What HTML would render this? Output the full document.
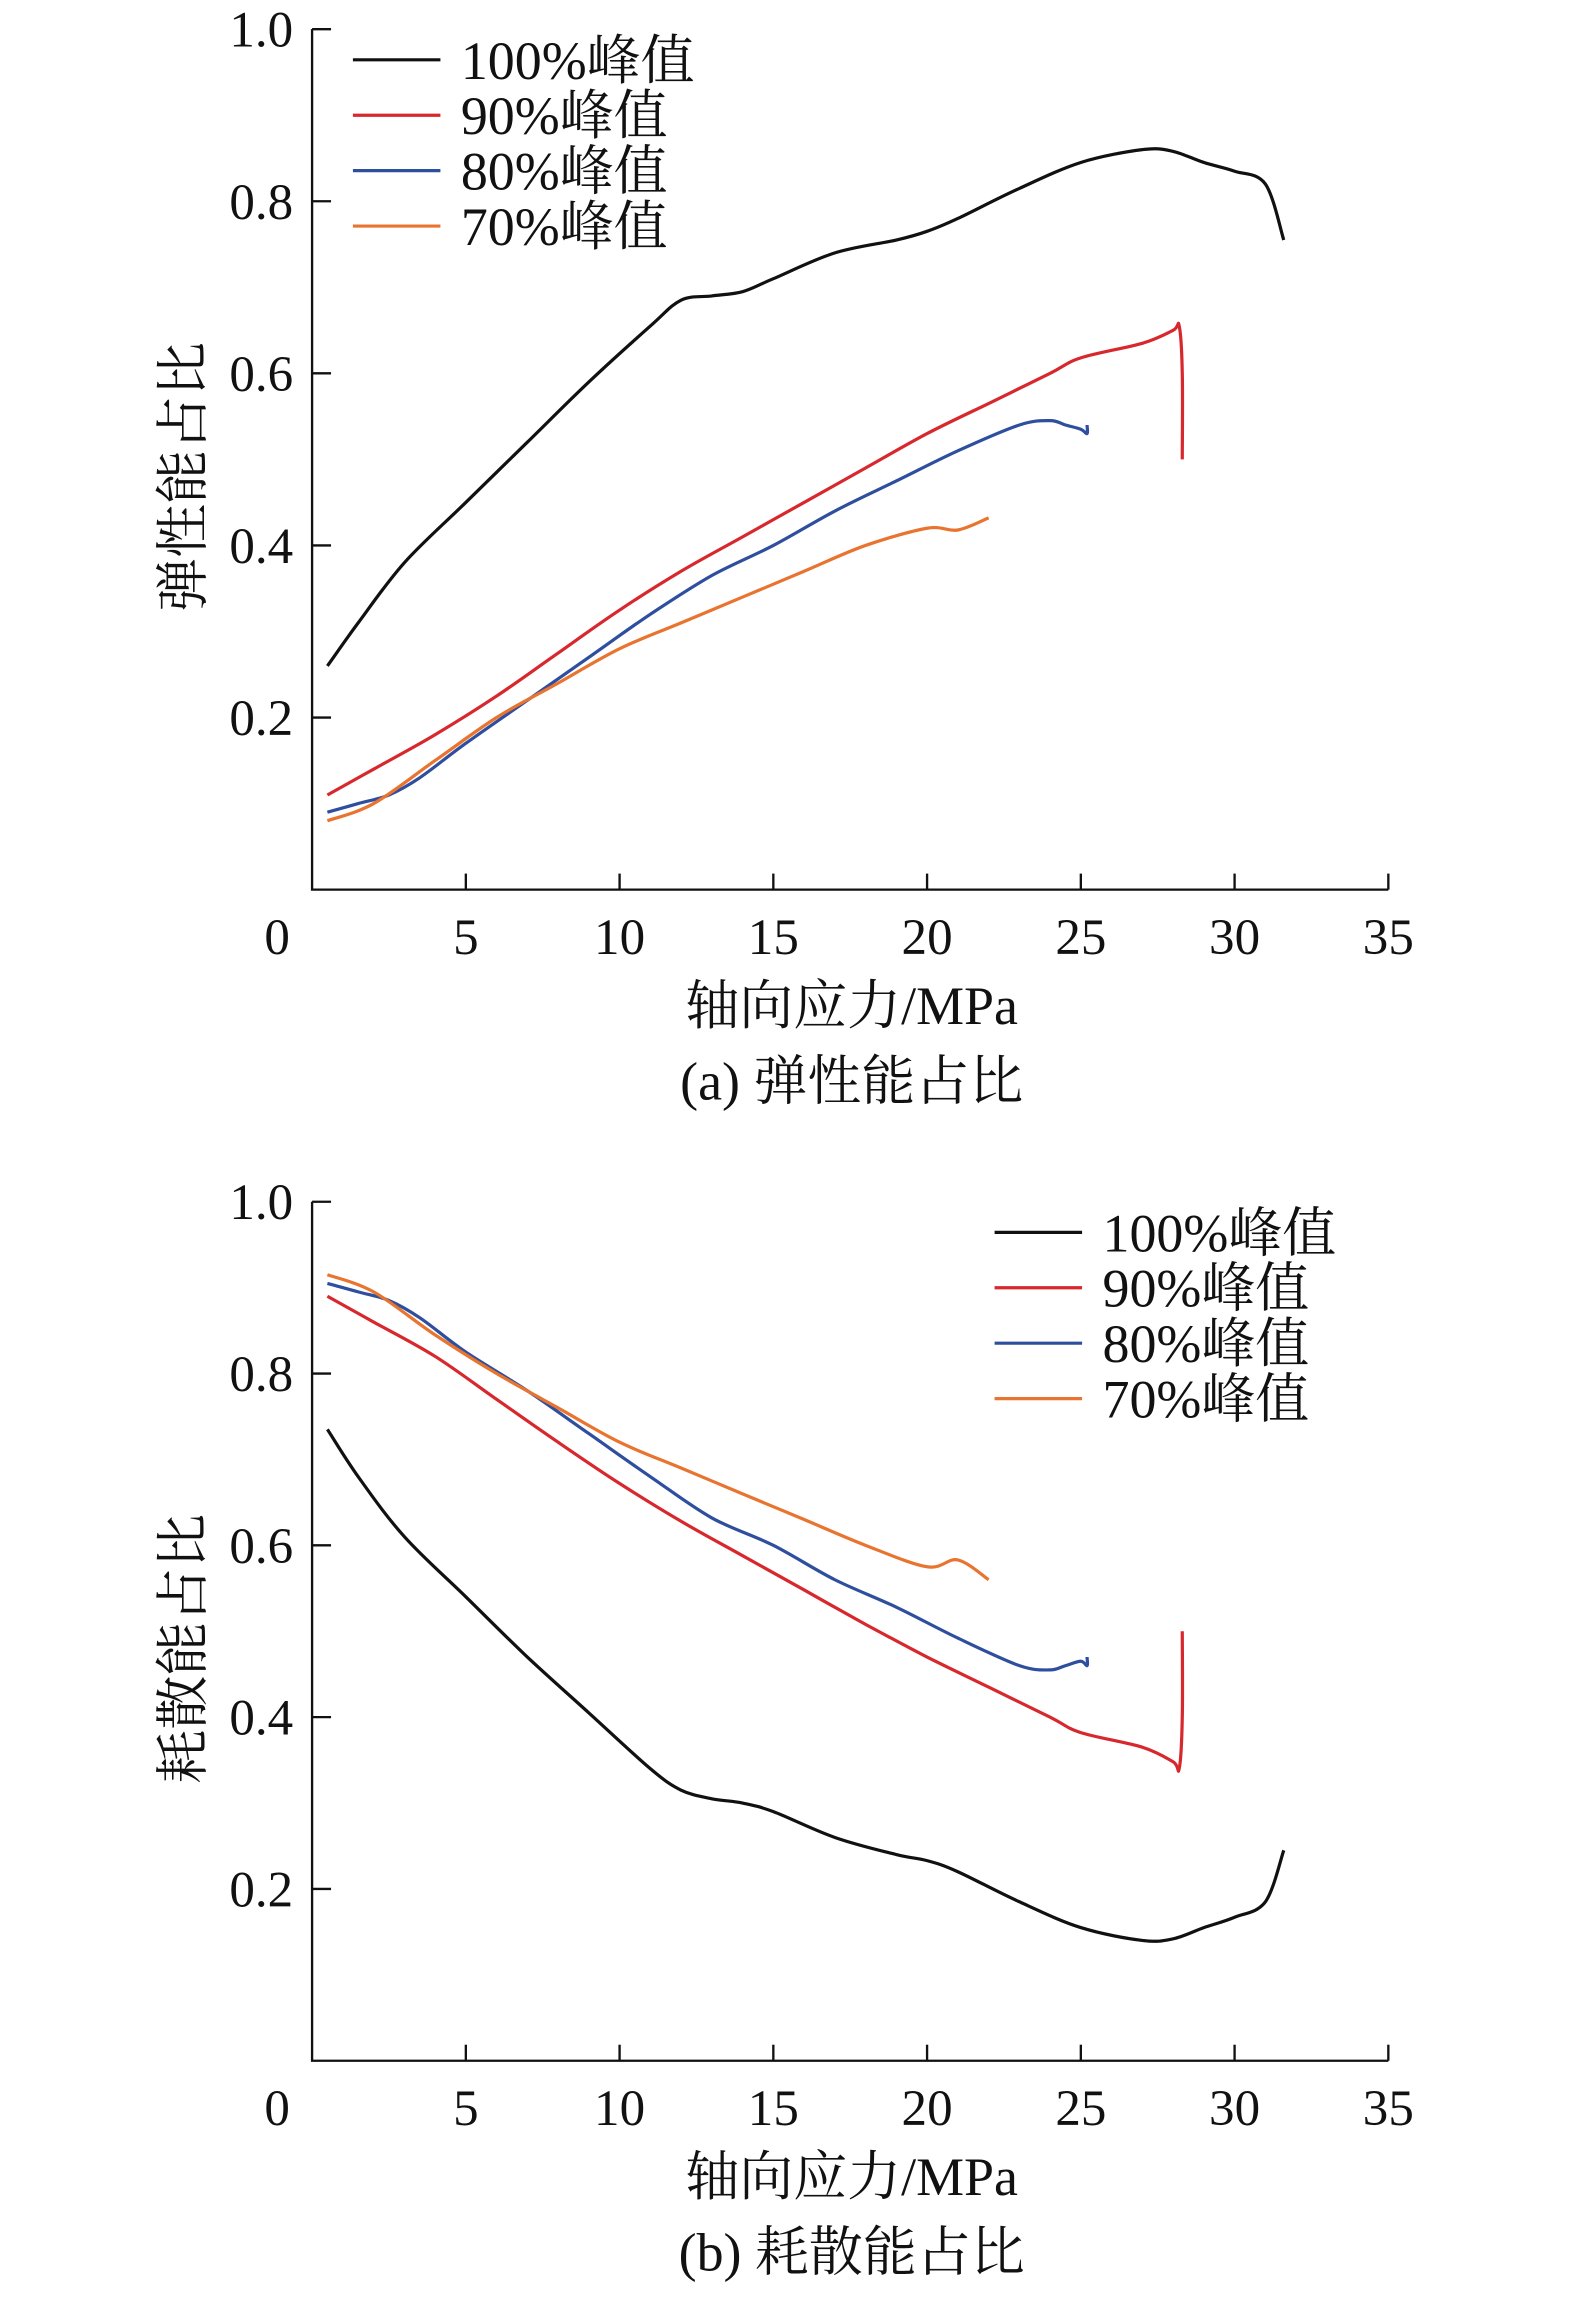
<!DOCTYPE html>
<html><head><meta charset="utf-8"><style>
html,body{margin:0;padding:0;background:#fff}
svg{display:block}
text{font-family:"Liberation Serif","Noto Serif CJK SC",serif;fill:#111}
</style></head><body>
<svg id="chart" width="1575" height="2297" viewBox="0 0 1080 1575" preserveAspectRatio="none"></svg>
<script>
const xTicks=[0,5,10,15,20,25,30,35];
const yTicks=[0.2,0.4,0.6,0.8,1.0];
const seriesNames=["100%峰值","90%峰值","80%峰值","70%峰值"];
const seriesColors=["#111","#d7282d","#2e4e9e","#e8742f"];
// (a) elastic energy ratio
const a100x=[0.5,1.5,3,5,7,9,11,12,13,14,15,17,19,20,21,23,25,27,28,29,30,31,31.6];
const a100y=[0.26,0.31,0.38,0.45,0.52,0.59,0.655,0.685,0.69,0.695,0.71,0.74,0.755,0.765,0.78,0.815,0.845,0.86,0.858,0.845,0.835,0.82,0.755];
const a90x=[0.5,2,4,6,8,10,12,14,16,18,20,22,24,25,27,28,28.2,28.3,28.3];
const a90y=[0.11,0.14,0.18,0.225,0.275,0.325,0.37,0.41,0.45,0.49,0.53,0.565,0.6,0.618,0.635,0.65,0.655,0.6,0.5];
const a80x=[0.5,1.5,2.5,3.5,5,7,9,11,13,15,17,19,21,23,24,24.5,25,25.2,25.2];
const a80y=[0.09,0.1,0.11,0.13,0.17,0.22,0.27,0.32,0.365,0.4,0.44,0.475,0.51,0.54,0.545,0.54,0.535,0.53,0.54];
const a70x=[0.5,2,4,6,8,10,12,14,16,18,20,21,22];
const a70y=[0.08,0.1,0.15,0.2,0.24,0.28,0.31,0.34,0.37,0.4,0.42,0.418,0.432];
// (b) dissipated energy ratio
const b100x=[0.5,1.5,3,5,7,9,11,12,13,14,15,17,19,20,21,23,25,27,28,29,30,31,31.6];
const b100y=[0.735,0.68,0.61,0.54,0.47,0.405,0.34,0.315,0.305,0.3,0.29,0.26,0.24,0.233,0.22,0.185,0.155,0.14,0.142,0.155,0.167,0.185,0.245];
const b90x=[0.5,2,4,6,8,10,12,14,16,18,20,22,24,25,27,28,28.2,28.3,28.3];
const b90y=[0.89,0.86,0.82,0.77,0.72,0.672,0.628,0.588,0.548,0.508,0.47,0.435,0.4,0.382,0.365,0.348,0.34,0.4,0.5];
const b80x=[0.5,1.5,2.5,3.5,5,7,9,11,13,15,17,19,21,23,24,24.5,25,25.2,25.2];
const b80y=[0.905,0.895,0.885,0.865,0.825,0.78,0.73,0.68,0.632,0.6,0.56,0.528,0.492,0.46,0.455,0.46,0.465,0.46,0.47];
const b70x=[0.5,2,4,6,8,10,12,14,16,18,20,21,22];
const b70y=[0.915,0.895,0.845,0.8,0.76,0.72,0.69,0.66,0.63,0.6,0.575,0.583,0.56];

const NS="http://www.w3.org/2000/svg";
const svg=document.getElementById("chart");
function mk(tag,attrs,parent,txt){const e=document.createElementNS(NS,tag);for(const k in attrs)e.setAttribute(k,attrs[k]);if(txt!=null)e.textContent=txt;(parent||svg).appendChild(e);return e;}
function smooth(pts){
  let d="M"+pts[0][0].toFixed(1)+","+pts[0][1].toFixed(1);
  for(let i=0;i<pts.length-1;i++){
    const p0=pts[Math.max(i-1,0)],p1=pts[i],p2=pts[i+1],p3=pts[Math.min(i+2,pts.length-1)];
    const c1=[p1[0]+(p2[0]-p0[0])/6,p1[1]+(p2[1]-p0[1])/6];
    const c2=[p2[0]-(p3[0]-p1[0])/6,p2[1]-(p3[1]-p1[1])/6];
    d+=`C${c1[0].toFixed(1)},${c1[1].toFixed(1)} ${c2[0].toFixed(1)},${c2[1].toFixed(1)} ${p2[0].toFixed(1)},${p2[1].toFixed(1)}`;
  }
  return d;
}
function panel(cfg){
  const g=mk("g",{});
  
  
  const x0=214,x1=952,yTop=cfg.top,yBot=cfg.bot;
  const sx=v=>x0+(v/35)*(x1-x0);
  const sy=v=>yBot-v*(yBot-yTop);
  const ax=mk("path",{d:`M${x0},${yTop}L${x0},${yBot}L${x1},${yBot}`,fill:"none",stroke:"#111","stroke-width":1.6},g);
  
  
  xTicks.forEach(t=>{
    if(t>0){const tk=mk("line",{x1:sx(t),x2:sx(t),y1:yBot,y2:yBot-11,stroke:"#111","stroke-width":1.6},g);
      
      }
    const lb=mk("text",{x:t===0?190:sx(t),y:yBot+44,"text-anchor":"middle","font-size":35},g,String(t));
    
    
  });
  yTicks.forEach(t=>{
    const tk=mk("line",{x1:x0,x2:x0+13,y1:sy(t),y2:sy(t),stroke:"#111","stroke-width":1.6},g);
    
    
    const lb=mk("text",{x:201,y:sy(t)+12,"text-anchor":"end","font-size":35},g,t.toFixed(1));
    
    
  });
  const xt=mk("text",{x:584,y:yBot+92,"text-anchor":"middle","font-size":37},g,"轴向应力/MPa");
  
  
  const cap=mk("text",{x:584,y:yBot+144,"text-anchor":"middle","font-size":37},g,cfg.caption);
  
  
  const cy=(yTop+yBot)/2+12;
  const yt=mk("text",{x:0,y:0,"text-anchor":"middle","font-size":37,transform:`translate(138,${cy}) rotate(-90)`},g,cfg.ytitle);
  
  
  cfg.series.forEach((s,i)=>{
    const pts=s[0].map((v,j)=>[sx(v),sy(s[1][j])]);
    const p=mk("path",{d:smooth(pts),fill:"none",stroke:seriesColors[i],"stroke-width":2.2,"stroke-linejoin":"round"},g);
    
    
    const ly=cfg.legY+i*38;
    const ll=mk("line",{x1:cfg.legX,x2:cfg.legX+60,y1:ly,y2:ly,stroke:seriesColors[i],"stroke-width":2.2},g);
    
    
    const lt=mk("text",{x:cfg.legX+74,y:ly+13,"font-size":37},g,seriesNames[i]);
    
    
  });
}
panel({name:"panel-a-elastic",top:20,bot:610,caption:"(a) 弹性能占比",ytitle:"弹性能占比",legX:242,legY:41,
  series:[[a100x,a100y],[a90x,a90y],[a80x,a80y],[a70x,a70y]]});
panel({name:"panel-b-dissipated",top:824,bot:1413,caption:"(b) 耗散能占比",ytitle:"耗散能占比",legX:682,legY:845,
  series:[[b100x,b100y],[b90x,b90y],[b80x,b80y],[b70x,b70y]]});
</script>
</body></html>
